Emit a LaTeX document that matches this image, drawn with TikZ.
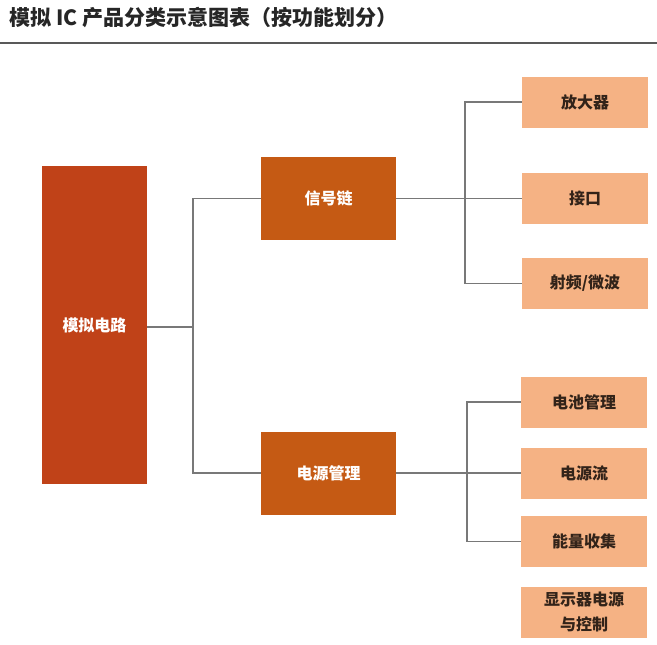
\documentclass[tikz,border=0pt]{standalone}
\usepackage{fontspec}
\newfontfamily\cjk{Noto Sans CJK SC}
\begin{document}
\begin{tikzpicture}[x=1pt,y=-1pt,
  every node/.style={inner sep=0pt, font=\cjk\bfseries\fontsize{16}{24}\selectfont, align=center},
  rootbox/.style={fill=rootc, text=white, minimum width=105pt, minimum height=318pt},
  midbox/.style={fill=midc, text=white, minimum width=135pt, minimum height=83pt},
  leafbox/.style={fill=leafc, text=leaft, minimum width=126pt, minimum height=51pt},
  conn/.style={draw=connc, line width=1.2pt}]
\definecolor{rootc}{RGB}{192,66,24}
\definecolor{midc}{RGB}{197,90,20}
\definecolor{leafc}{RGB}{245,178,132}
\definecolor{leaft}{RGB}{50,35,25}
\definecolor{connc}{RGB}{120,120,120}
\useasboundingbox (0,0) rectangle (657,645);
\node[anchor=west, font=\cjk\bfseries\fontsize{21}{24}\selectfont, text=black!85] (title) at (9,18) {模拟 IC 产品分类示意图表（按功能划分）};
\draw[draw=black!65, line width=2pt] (0,43) -- (657,43);
\node[rootbox] (root) at (94.5,325) {模拟电路};
\node[midbox] (sig) at (328.5,198.5) {信号链};
\node[midbox] (pow) at (328.5,473) {电源管理};
\node[leafbox] (amp) at (585,102) {放大器};
\node[leafbox] (itf) at (585,198.5) {接口};
\node[leafbox] (rf) at (585,283.5) {射频/微波};
\node[leafbox] (bat) at (584,402) {电池管理};
\node[leafbox] (psf) at (584,473) {电源流};
\node[leafbox] (eh) at (584,541.5) {能量收集};
\node[leafbox, font=\cjk\bfseries\fontsize{16}{25}\selectfont] (disp) at (584,612) {显示器电源\\与控制};
\coordinate (h1) at (193,327);
\coordinate (h2) at (465,198.5);
\coordinate (h3) at (467,473);
\draw[conn] (root.east |- h1) -- (h1);
\draw[conn] (sig.west) -- (sig.west -| h1) -- (pow.west -| h1) -- (pow.west);
\draw[conn] (sig.east) -- (itf.west);
\draw[conn] (amp.west) -- (amp.west -| h2) -- (rf.west -| h2) -- (rf.west);
\draw[conn] (pow.east) -- (psf.west);
\draw[conn] (bat.west) -- (bat.west -| h3) -- (eh.west -| h3) -- (eh.west);
\end{tikzpicture}
\end{document}
